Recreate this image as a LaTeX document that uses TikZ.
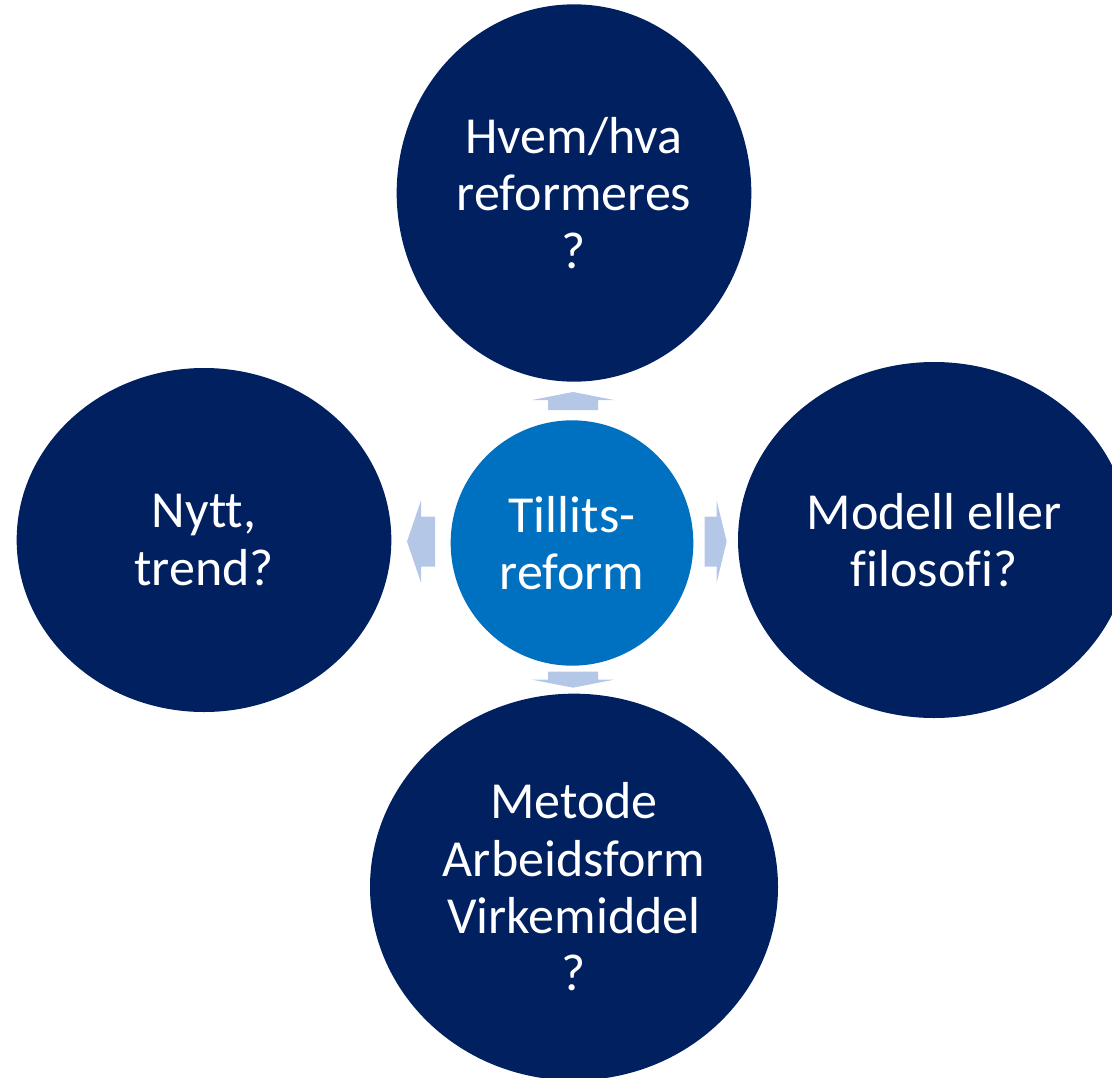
\documentclass[tikz,border=0pt]{standalone}
\usepackage{fontspec}
\setmainfont{Carlito}[Ligatures=NoCommon]
\usetikzlibrary{shapes.geometric,calc}
\definecolor{navy}{HTML}{002060}
\definecolor{midblue}{HTML}{0070C0}
\definecolor{paleblue}{HTML}{B4C7E7}

\begin{document}
\begin{tikzpicture}[x=0.75pt, y=-0.75pt,
    bubble/.style={ellipse, fill=navy, text=white, inner sep=0pt, align=center,
        font=\fontsize{39}{43}\selectfont},
    pointer/.style={fill=paleblue}]
    \useasboundingbox (0,0) rectangle (1112,1077);
    \clip (0,0) rectangle (1112,1077);

    \node[bubble, fill=midblue, minimum width=182pt, minimum height=184pt] (core) at (572,543) {Tillits-\\reform};
    \node[bubble, minimum width=266pt, minimum height=283pt] (who) at (574,193) {Hvem/hva\\reformeres\\?};
    \node[bubble, minimum width=281pt, minimum height=258pt] (trend) at (204,540) {Nytt,\\trend?};
    \node[bubble, minimum width=294pt, minimum height=267pt] (model) at (934,540) {Modell eller\\filosofi?};
    \node[bubble, minimum width=306pt, minimum height=290pt] (method) at (574,887) {Metode\\Arbeidsform\\Virkemiddel\\?};

    % block arrows sit in the gaps round the core
    \coordinate (upgap) at ($(core.north)!0.5!(who.south)$);
    \coordinate (leftgap) at ($(core.west)!0.5!(trend.east)$);
    \coordinate (rightgap) at ($(core.east)!0.5!(model.west)$);
    \coordinate (downgap) at ($(core.south)!0.5!(method.north)$);

    \fill[pointer] (upgap) ++(-25,9) -- ++(0,-10) -- ++(-16,0) -- ++(41,-8)
        -- ++(41,8) -- ++(-16,0) -- ++(0,10) -- cycle;
    \fill[pointer] (leftgap) ++(14,-25) -- ++(-14,0) -- ++(0,-16) -- ++(-14,41)
        -- ++(14,41) -- ++(0,-16) -- ++(14,0) -- cycle;
    \fill[pointer] (rightgap) ++(-11,-25) -- ++(12,0) -- ++(0,-16) -- ++(10,41)
        -- ++(-10,41) -- ++(0,-16) -- ++(-12,0) -- cycle;
    \fill[pointer] (downgap) ++(-25,-8) -- ++(0,8) -- ++(-16,0) -- ++(41,8)
        -- ++(41,-8) -- ++(-16,0) -- ++(0,-8) -- cycle;
\end{tikzpicture}
\end{document}
